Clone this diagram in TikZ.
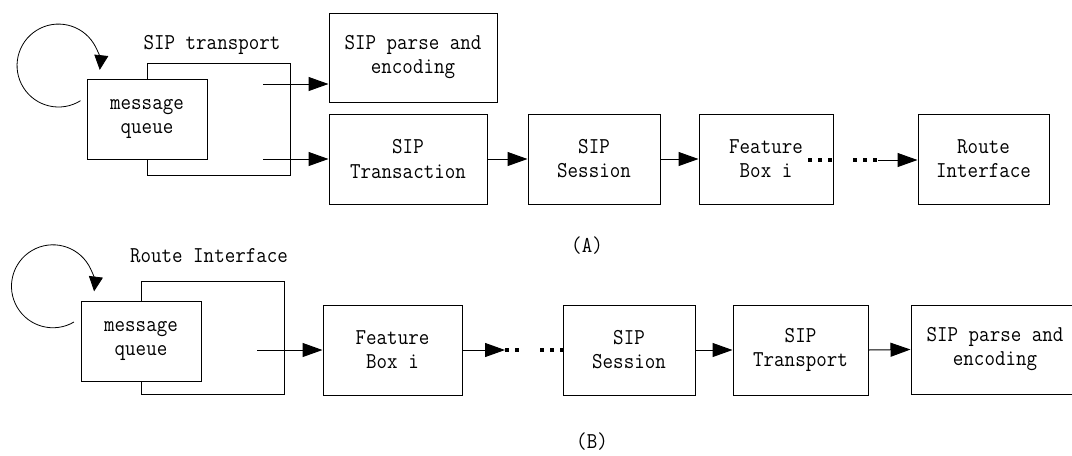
\documentclass[tikz,border=0pt]{standalone}
\usepackage{fontspec}
\setmonofont{Latin Modern Mono}[FakeStretch=0.9]
\usetikzlibrary{arrows.meta}
\begin{document}
\begin{tikzpicture}[x=0.75pt,y=-0.75pt,
  every node/.style={font=\ttfamily\fontsize{17pt}{18pt}\selectfont},
  block/.style 2 args={draw, line width=0.75pt, inner sep=0pt, align=center,
    fill=white, minimum width={#1*0.75pt}, minimum height={#2*0.75pt}},
  conn/.style={line width=0.75pt, -{Triangle[length=15pt,width=10.5pt]}},
  looparrow/.style={line width=0.6pt, -{Triangle[length=11pt,width=10.5pt]}},
  dotrun/.style={line width=3pt, dash pattern=on 3pt off 4.5pt},
  caption/.style={}]
\useasboundingbox (0,0) rectangle (1072,455);
\clip (0,0) rectangle (1072,455);

% ---------- (A) outgoing path ----------
\node[block={143}{112}] (tpA) at (218.5,119) {};
\node[block={120}{80}] (mqA) at (147,119) {message\\queue};
\node[caption] (tpAlabel) at (212,45) {SIP transport};
\coordinate (loopA) at (80.5,100.7);
\draw[looparrow] (loopA) arc[start angle=-58, end angle=-366, radius=31.1pt];

\node[block={168}{89}] (parseA) at (413,57.5) {SIP parse and\\encoding};
\node[block={158}{90}] (transA) at (408,159) {SIP\\Transaction};
\node[block={132}{90}] (sessA) at (594,159) {SIP\\Session};
\node[block={134}{90}] (featA) at (766,159) {Feature\\Box i};
\node[block={131}{90}] (routeA) at (983.5,159) {Route\\Interface};

\coordinate (outA1) at (263,84);
\coordinate (outA2) at (263,159);
\draw[conn] (outA1) -- (outA1 -| parseA.west);
\draw[conn] (outA2) -- (transA.west);
\draw[conn] (transA.east) -- (sessA.west);
\draw[conn] (sessA.east) -- (featA.west);
\coordinate (dA1) at (808,160);
\coordinate (dA2) at (853,160);
\coordinate (dA3) at (878,160);
\draw[dotrun] (dA1) -- (featA.east |- dA1);
\draw[dotrun] (dA2) -- (dA3);
\draw[conn] (dA3) -- (dA3 -| routeA.west);

\node[caption] (capA) at (587,246) {(A)};

% ---------- (B) incoming path ----------
\node[block={143}{113}] (riB) at (212.5,337.5) {};
\node[block={120}{80}] (mqB) at (141,341) {message\\queue};
\node[caption] (riBlabel) at (209,256) {Route Interface};
\coordinate (loopB) at (74,322);
\draw[looparrow] (loopB) arc[start angle=-59.5, end angle=-367, radius=31.1pt];

\node[block={139}{90}] (featB) at (392.5,350) {Feature\\Box i};
\node[block={132}{90}] (sessB) at (629,350) {SIP\\Session};
\node[block={135}{90}] (transpB) at (800.5,350) {SIP\\Transport};
\node[block={168}{89}] (parseB) at (995,349.5) {SIP parse and\\encoding};

\coordinate (outB) at (257,350);
\draw[conn] (outB) -- (featB.west);
\coordinate (dB1) at (505,350);
\coordinate (dB2) at (522,350);
\coordinate (dB3) at (540,350);
\draw[conn] (featB.east) -- (dB1);
\draw[dotrun] (dB1) -- (dB2);
\draw[dotrun] (dB3) -- (sessB.west);
\draw[conn] (sessB.east) -- (transpB.west);
\draw[conn] (transpB.east) -- (parseB.west);

\node[caption] (capB) at (592,442) {(B)};
\end{tikzpicture}
\end{document}
